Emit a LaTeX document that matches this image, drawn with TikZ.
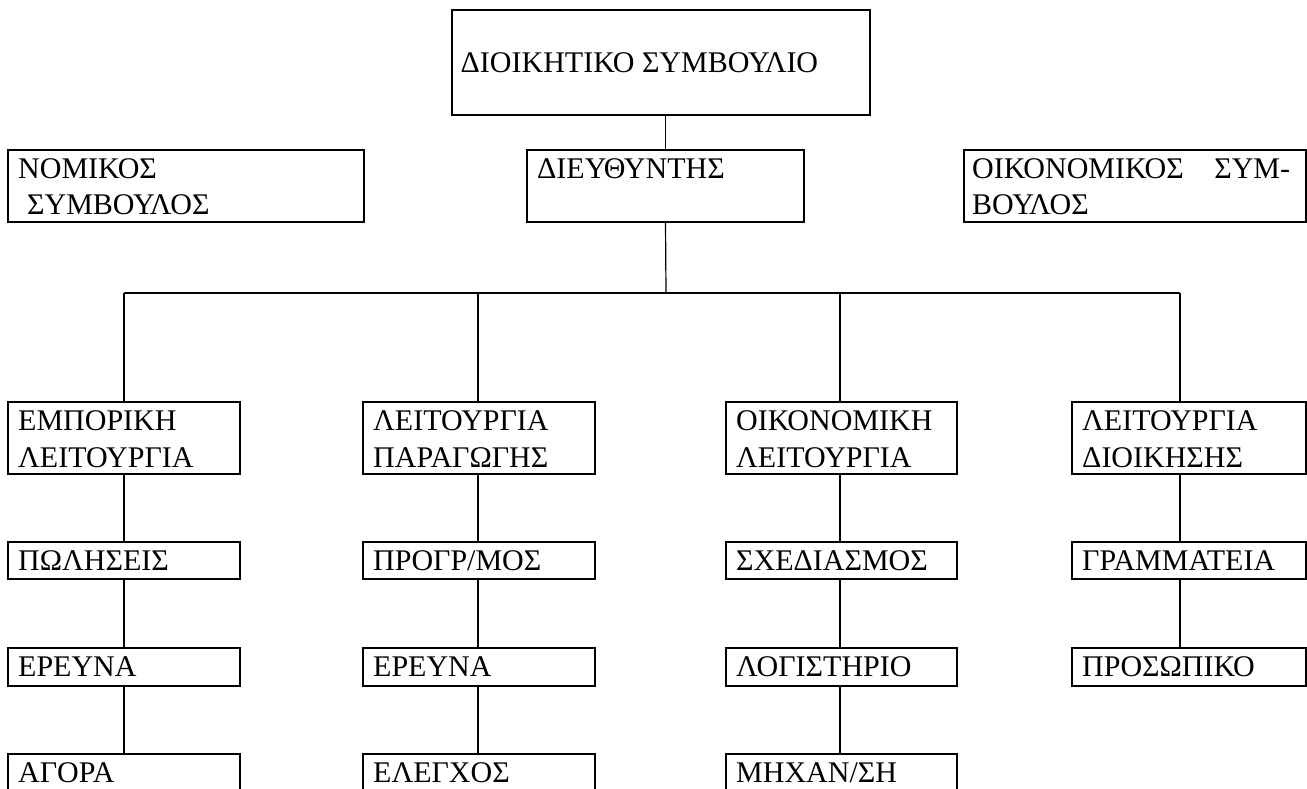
\documentclass[tikz,border=0pt]{standalone}
\usepackage{fontspec}
\setmainfont{Liberation Serif}
\begin{document}
\begin{tikzpicture}[x=1pt,y=-1pt,
  box/.style={draw, line width=1.8pt, inner sep=0pt, outer sep=0pt, anchor=north west},
  lbl/.style={inner sep=0pt, anchor=base west, font=\fontsize{30}{36.5}\selectfont},
  con/.style={line width=1.2pt},
  bus/.style={line width=1.8pt}]
\useasboundingbox (0,0) rectangle (1307,788);
\clip (0,0) rectangle (1307,788);
% top level
\node[box, minimum width=418pt, minimum height=105pt] (top) at (452,10) {};
\node[box, minimum width=356pt, minimum height=72pt] (nom) at (8,150) {};
\node[box, minimum width=277pt, minimum height=72pt] (dir) at (527,150) {};
\node[box, minimum width=342pt, minimum height=72pt] (oik) at (964,150) {};
% row 1
\node[box, minimum width=232pt, minimum height=72pt] (a1) at (8,402) {};
\node[box, minimum width=232pt, minimum height=72pt] (b1) at (363,402) {};
\node[box, minimum width=231pt, minimum height=72pt] (c1) at (726,402) {};
\node[box, minimum width=234pt, minimum height=72pt] (d1) at (1072,402) {};
% row 2
\node[box, minimum width=232pt, minimum height=37pt] (a2) at (8,542) {};
\node[box, minimum width=232pt, minimum height=37pt] (b2) at (363,542) {};
\node[box, minimum width=231pt, minimum height=37pt] (c2) at (726,542) {};
\node[box, minimum width=234pt, minimum height=37pt] (d2) at (1072,542) {};
% row 3
\node[box, minimum width=232pt, minimum height=38pt] (a3) at (8,648) {};
\node[box, minimum width=232pt, minimum height=38pt] (b3) at (363,648) {};
\node[box, minimum width=231pt, minimum height=38pt] (c3) at (726,648) {};
\node[box, minimum width=234pt, minimum height=38pt] (d3) at (1072,648) {};
% row 4
\node[box, minimum width=232pt, minimum height=60pt] (a4) at (8,754) {};
\node[box, minimum width=232pt, minimum height=60pt] (b4) at (363,754) {};
\node[box, minimum width=231pt, minimum height=60pt] (c4) at (726,754) {};
% labels
\node[lbl] (ttop) at (460.5,72) {ΔΙΟΙΚΗΤΙΚΟ ΣΥΜΒΟΥΛΙΟ};
\node[lbl] (tnom) at (18,178) {\vtop{\hbox{ΝΟΜΙΚΟΣ}\hbox{\hspace*{9pt}ΣΥΜΒΟΥΛΟΣ}}};
\node[lbl] (tdir) at (537,178) {ΔΙΕΥΘΥΝΤΗΣ};
\node[lbl] (toik) at (972,178) {\vtop{\hbox to 318pt{ΟΙΚΟΝΟΜΙΚΟΣ\hfill ΣΥΜ-}\hbox{ΒΟΥΛΟΣ}}};
\node[lbl] (ta1) at (18,430.5) {\vtop{\hbox{ΕΜΠΟΡΙΚΗ}\hbox{ΛΕΙΤΟΥΡΓΙΑ}}};
\node[lbl] (tb1) at (373,430.5) {\vtop{\hbox{ΛΕΙΤΟΥΡΓΙΑ}\hbox{ΠΑΡΑΓΩΓΗΣ}}};
\node[lbl] (tc1) at (736,430.5) {\vtop{\hbox{ΟΙΚΟΝΟΜΙΚΗ}\hbox{ΛΕΙΤΟΥΡΓΙΑ}}};
\node[lbl] (td1) at (1082,430.5) {\vtop{\hbox{ΛΕΙΤΟΥΡΓΙΑ}\hbox{ΔΙΟΙΚΗΣΗΣ}}};
\node[lbl] (ta2) at (18,570.5) {ΠΩΛΗΣΕΙΣ};
\node[lbl] (tb2) at (373,570.5) {ΠΡΟΓΡ/ΜΟΣ};
\node[lbl] (tc2) at (736,570.5) {ΣΧΕΔΙΑΣΜΟΣ};
\node[lbl] (td2) at (1082,570.5) {ΓΡΑΜΜΑΤΕΙΑ};
\node[lbl] (ta3) at (18,676.5) {ΕΡΕΥΝΑ};
\node[lbl] (tb3) at (373,676.5) {ΕΡΕΥΝΑ};
\node[lbl] (tc3) at (736,676.5) {ΛΟΓΙΣΤΗΡΙΟ};
\node[lbl] (td3) at (1082,676.5) {ΠΡΟΣΩΠΙΚΟ};
\node[lbl] (ta4) at (18,782.5) {ΑΓΟΡΑ};
\node[lbl] (tb4) at (373,782.5) {ΕΛΕΓΧΟΣ};
\node[lbl] (tc4) at (736,782.5) {ΜΗΧΑΝ/ΣΗ};
% connectors
\coordinate (busc) at (666,293);
\coordinate (p1) at (124,293);
\coordinate (p2) at (478,293);
\coordinate (p3) at (840,293);
\coordinate (p4) at (1180,293);
\draw[con] (top.south -| dir.north) -- (dir.north);
\draw[con] (dir.south) -- (busc);
\draw[bus] (p1) -- (p4);
\foreach \p/\c in {p1/a, p2/b, p3/c, p4/d}{
  \draw[con] (\p) -- (\p |- \c1.north);
  \draw[con] (\c1.south -| \p) -- (\c2.north -| \p);
  \draw[con] (\c2.south -| \p) -- (\c3.north -| \p);
}
\foreach \p/\c in {p1/a, p2/b, p3/c}{
  \draw[con] (\c3.south -| \p) -- (\c4.north -| \p);
}
\end{tikzpicture}
\end{document}
